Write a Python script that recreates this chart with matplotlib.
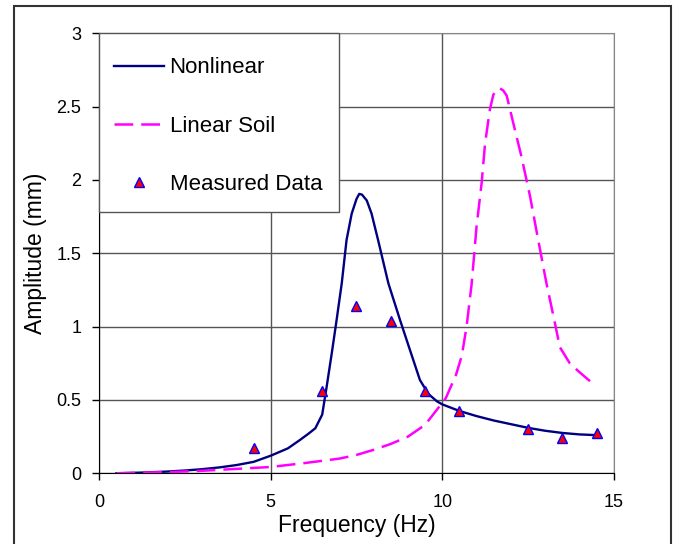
import matplotlib
matplotlib.use("Agg")
import matplotlib.pyplot as plt
from matplotlib.patches import Rectangle

plt.rcParams['font.family'] = ['Liberation Sans', 'DejaVu Sans']

# Nonlinear response
freq_nl = [0.5, 1, 1.5, 2, 2.5, 3, 3.5, 4, 4.5, 5, 5.5, 5.85, 6.1, 6.3, 6.5, 6.63,
           6.78, 6.92, 7.07, 7.21, 7.36, 7.5, 7.58, 7.66, 7.8, 7.94, 8.13, 8.43, 8.77,
           9.06, 9.35, 9.6, 9.85, 10.0, 10.5, 11, 11.5, 12, 12.5, 13, 13.5, 14, 14.5]
amp_nl = [0.0, 0.003, 0.007, 0.012, 0.019, 0.028, 0.04, 0.056, 0.078, 0.12, 0.17,
          0.227, 0.27, 0.307, 0.4, 0.59, 0.82, 1.045, 1.295, 1.59, 1.77, 1.87, 1.905,
          1.9, 1.86, 1.77, 1.59, 1.295, 1.045, 0.84, 0.636, 0.54, 0.49, 0.47, 0.425,
          0.39, 0.36, 0.335, 0.31, 0.29, 0.275, 0.265, 0.26]

# Linear soil response
freq_lin = [0.5, 1, 2, 3, 4, 5, 6, 7, 7.5, 8, 8.5, 9, 9.5, 9.8, 10.1, 10.4, 10.57,
            10.71, 10.86, 11.0, 11.15, 11.25, 11.39, 11.49, 11.58, 11.68, 11.78, 11.88,
            12.07, 12.31, 12.56, 12.8, 13.04, 13.29, 13.43, 13.72, 14.0, 14.4]
amp_lin = [0.0, 0.003, 0.008, 0.017, 0.03, 0.043, 0.07, 0.1, 0.125, 0.16, 0.2, 0.25,
           0.33, 0.42, 0.51, 0.67, 0.8, 1.0, 1.295, 1.68, 1.98, 2.25, 2.48, 2.58, 2.615,
           2.625, 2.61, 2.575, 2.39, 2.16, 1.89, 1.59, 1.295, 1.02, 0.86, 0.75, 0.69, 0.61]

# Measured data
freq_meas = [4.5, 6.5, 7.5, 8.5, 9.5, 10.5, 12.5, 13.5, 14.5]
amp_meas = [0.17, 0.56, 1.14, 1.04, 0.56, 0.425, 0.30, 0.243, 0.275]

fig = plt.figure(figsize=(6.76, 5.44), dpi=100)
ax = fig.add_axes([0.1469, 0.13, 0.7609, 0.8088])

# outer chart frame
fig.patches.append(Rectangle((14 / 676, -0.05), 657 / 676, 0.05 + 538 / 544,
                             transform=fig.transFigure, fill=False,
                             edgecolor="#333333", linewidth=1.5))

ax.plot(freq_nl, amp_nl, color="#000080", linewidth=1.7, label="Nonlinear", zorder=3)
ax.plot(freq_lin, amp_lin, color="#FF00FF", linewidth=1.8, dashes=(7.5, 3.2),
        label="Linear Soil", zorder=3)
ax.plot(freq_meas, amp_meas, linestyle="", marker="^", markersize=6.5,
        markerfacecolor="#FF0000", markeredgecolor="#0000FF", markeredgewidth=1.0,
        label="Measured Data", zorder=4)

ax.set_xlim(0, 15)
ax.set_ylim(0, 3)
ax.set_xticks([0, 5, 10, 15])
ax.set_yticks([0, 0.5, 1, 1.5, 2, 2.5, 3])
ax.set_yticklabels(["0", "0.5", "1", "1.5", "2", "2.5", "3"])
ax.grid(True, color="#555555", linewidth=1.0)
ax.set_axisbelow(True)
ax.tick_params(direction="out", length=5, width=1, labelsize=13, pad=8, colors="black")
ax.tick_params(axis="x", pad=10)
for side in ["top", "right"]:
    ax.spines[side].set_color("#888888")
for side in ["left", "bottom"]:
    ax.spines[side].set_color("black")

ax.set_xlabel("Frequency (Hz)", fontsize=16.5, labelpad=2)
ax.set_ylabel("Amplitude (mm)", fontsize=16.5, labelpad=7)

# legend box drawn by hand so the padding can match
ax.add_patch(Rectangle((0, 0.5945), 0.466, 0.4055, transform=ax.transAxes,
                       facecolor="white", edgecolor="#555555", linewidth=1.0,
                       zorder=5, clip_on=False))
leg = ax.legend(loc="upper left", bbox_to_anchor=(0.0286, 0.945), borderaxespad=0,
                fontsize=16, frameon=False, labelspacing=1.67, handlelength=2.25,
                handletextpad=0.25, borderpad=0)
leg.set_zorder(6)

fig.savefig("out.png", dpi=100)
